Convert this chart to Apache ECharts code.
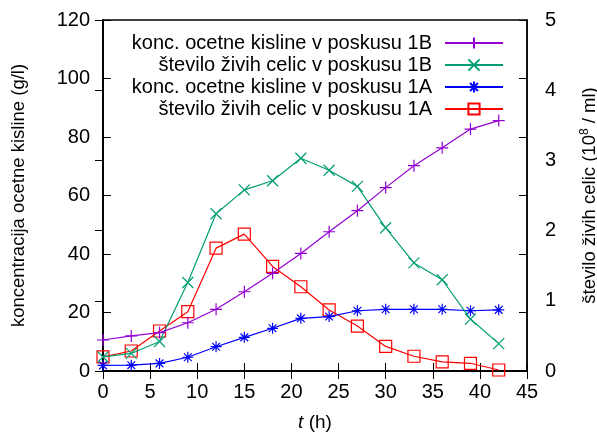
<!DOCTYPE html>
<html>
<head>
<meta charset="utf-8">
<script src="https://cdn.jsdelivr.net/npm/echarts@6/dist/echarts.min.js"></script>
<style>
  html, body { margin: 0; padding: 0; background: #fff; }
  #chart { width: 597px; height: 433px; }
</style>
</head>
<body>
<div id="chart"></div>
<script>
// cas (h)
var hours = [0, 3, 6, 9, 12, 15, 18, 21, 24, 27, 30, 33, 36, 39, 42];
// koncentracija ocetne kisline (g/l)
var acid1B = [10.6, 12.0, 13.1, 16.5, 21.1, 27.1, 33.4, 40.2, 47.6, 54.8, 62.7, 70.2, 76.3, 82.7, 85.6];
var acid1A = [1.9, 2.0, 2.6, 4.7, 8.3, 11.5, 14.6, 18.0, 18.6, 20.6, 21.1, 21.1, 21.1, 20.6, 20.9];
// stevilo zivih celic (10^8 / ml)
var cells1B = [0.2, 0.25, 0.42, 1.26, 2.24, 2.58, 2.71, 3.03, 2.86, 2.63, 2.04, 1.54, 1.30, 0.74, 0.39];
var cells1A = [0.2, 0.285, 0.57, 0.845, 1.75, 1.95, 1.49, 1.2, 0.87, 0.64, 0.35, 0.21, 0.13, 0.11, 0.014];

var names = [
  'konc. ocetne kisline v poskusu 1B',
  'število živih celic v poskusu 1B',
  'konc. ocetne kisline v poskusu 1A',
  'število živih celic v poskusu 1A'
];
var colors = ['#9400d3', '#009e73', '#0000ff', '#ff0000'];

function pairs(ys) {
  return hours.map(function (h, i) { return [h, ys[i]]; });
}

var FONT = 'Liberation Sans';
var plus = 'path://M0,5L10,5M5,0L5,10';
var cross = 'path://M0,0L10,10M10,0L0,10';
var star = 'path://M0,5L10,5M5,0L5,10M1.5,1.5L8.5,8.5M8.5,1.5L1.5,8.5';
var square = 'path://M0,0L10,0L10,10L0,10Z';

function mk(i, ys, yIdx, sym, size) {
  return {
    name: names[i],
    type: 'line',
    yAxisIndex: yIdx,
    data: pairs(ys),
    symbol: sym,
    symbolSize: size,
    showAllSymbol: true,
    lineStyle: { color: colors[i], width: 1.2 },
    itemStyle: { color: 'none', borderColor: colors[i], borderWidth: 1.2 },
    emphasis: { disabled: true },
    z: 10 - i
  };
}

var chart = echarts.init(document.getElementById('chart'));

var tickIn = { show: true, inside: true, length: 8, lineStyle: { color: '#000', width: 1 } };
var axisLn = { show: true, lineStyle: { color: '#000', width: 1.5 } };
var lbl = { color: '#000', fontSize: 20, fontFamily: FONT };

var option = {
  animation: false,
  color: colors,
  grid: {
    left: 103, right: 70, top: 20, bottom: 62,
    outerBoundsMode: 'none',
    containLabel: false,
    show: true, borderColor: '#000', borderWidth: 1.5, backgroundColor: 'transparent'
  },
  legend: {
    orient: 'vertical',
    align: 'right',
    right: 88,
    top: 28,
    itemWidth: 58,
    itemHeight: 14,
    itemGap: 2,
    textStyle: { color: '#000', fontSize: 20, fontFamily: FONT, lineHeight: 18, padding: [0, 8, 0, 0] },
    data: names
  },
  xAxis: [
    {
      type: 'value', min: 0, max: 45, interval: 5,
      position: 'bottom',
      axisLine: axisLn, axisTick: tickIn,
      axisLabel: Object.assign({ margin: 11 }, lbl),
      splitLine: { show: false },
      name: '{i|t} (h)',
      nameLocation: 'middle', nameGap: 42,
      nameTextStyle: {
        color: '#000', fontSize: 19, fontFamily: FONT,
        rich: { i: { fontStyle: 'italic', fontSize: 19, fontFamily: FONT, color: '#000' } }
      }
    },
    {
      type: 'value', min: 0, max: 45, interval: 5,
      position: 'top',
      axisLine: axisLn, axisTick: tickIn,
      axisLabel: { show: false }, splitLine: { show: false }
    }
  ],
  yAxis: [
    {
      type: 'value', min: 0, max: 120, interval: 20,
      position: 'left',
      axisLine: axisLn, axisTick: tickIn,
      axisLabel: Object.assign({ margin: 13 }, lbl),
      splitLine: { show: false },
      name: 'koncentracija ocetne kisline (g/l)',
      nameLocation: 'middle', nameRotate: 90, nameGap: 75,
      nameTextStyle: { color: '#000', fontSize: 18.5, fontFamily: FONT }
    },
    {
      type: 'value', min: 0, max: 5, interval: 1,
      position: 'right',
      axisLine: axisLn, axisTick: tickIn,
      axisLabel: Object.assign({ margin: 18 }, lbl),
      splitLine: { show: false },
      name: 'število živih celic (10{sup|8} / ml)',
      nameLocation: 'middle', nameRotate: 90, nameGap: 52,
      nameTextStyle: {
        color: '#000', fontSize: 18.5, fontFamily: FONT,
        rich: { sup: { fontSize: 12, fontFamily: FONT, color: '#000', padding: [0, 0, 9, 0] } }
      }
    },
    {
      type: 'value', min: 0, max: 120, interval: 20,
      position: 'right',
      axisLine: axisLn, axisTick: tickIn,
      axisLabel: { show: false }, splitLine: { show: false }
    }
  ],
  series: [
    mk(0, acid1B, 0, plus, 12),
    mk(1, cells1B, 1, cross, 11),
    mk(2, acid1A, 0, star, 11),
    mk(3, cells1A, 1, square, 12)
  ]
};

chart.setOption(option);
</script>
</body>
</html>
